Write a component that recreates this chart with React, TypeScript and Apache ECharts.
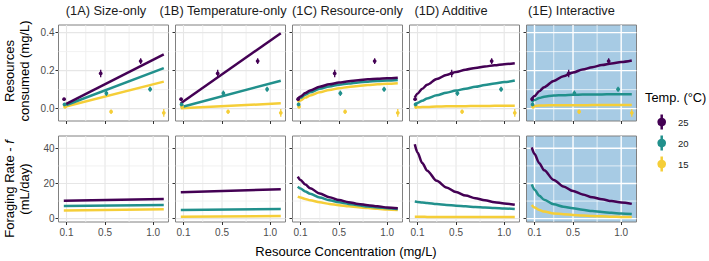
import React, { useEffect, useRef } from "react";
import * as echarts from "echarts";

// ---------- data ----------
const TEMPS = ["25", "20", "15"];
const PANEL_TITLES = ["(1A) Size-only", "(1B) Temperature-only", "(1C) Resource-only", "(1D) Additive", "(1E) Interactive"];
const X_TICKS = [0.1, 0.5, 1.0];
const X_MINOR = [0.3, 0.75];
const TOP_Y_TICKS = [0, 0.2, 0.4];
const TOP_Y_MINOR = [0.1, 0.3];
const BOT_Y_TICKS = [0, 20, 40];
const BOT_Y_MINOR = [10, 30];

const LINE_X = [0.072, 0.1, 0.15, 0.2, 0.3, 0.4, 0.5, 0.6, 0.7, 0.8, 0.9, 1.0, 1.11];
const LINE_ENDS_X = [0.072, 1.11];

// Resources consumed (top row); rows = 25, 20, 15 °C
const consumed1A = [[0.019, 0.286], [0.014, 0.213], [0.009, 0.142]];
const consumed1B = [[0.028, 0.397], [0.007, 0.147], [0.002, 0.028]];
const consumed1C = [
  [0.052, 0.064, 0.082, 0.096, 0.115, 0.128, 0.137, 0.144, 0.149, 0.154, 0.157, 0.160, 0.163],
  [0.044, 0.057, 0.073, 0.086, 0.104, 0.117, 0.126, 0.132, 0.138, 0.142, 0.145, 0.148, 0.151],
  [0.033, 0.043, 0.058, 0.069, 0.086, 0.098, 0.107, 0.114, 0.119, 0.124, 0.128, 0.131, 0.134],
];
const consumed1D = [
  [0.058, 0.079, 0.105, 0.126, 0.156, 0.177, 0.193, 0.205, 0.214, 0.222, 0.228, 0.234, 0.239],
  [0.022, 0.030, 0.042, 0.053, 0.070, 0.084, 0.095, 0.105, 0.115, 0.124, 0.132, 0.140, 0.148],
  [0.006, 0.007, 0.008, 0.009, 0.011, 0.012, 0.013, 0.013, 0.014, 0.014, 0.015, 0.015, 0.015],
];
const consumed1E = [
  [0.050, 0.066, 0.092, 0.113, 0.146, 0.171, 0.190, 0.206, 0.218, 0.229, 0.238, 0.245, 0.253],
  [0.034, 0.045, 0.056, 0.063, 0.069, 0.071, 0.073, 0.074, 0.075, 0.075, 0.076, 0.076, 0.076],
  [0.012, 0.014, 0.016, 0.017, 0.018, 0.018, 0.018, 0.018, 0.019, 0.019, 0.019, 0.019, 0.019],
];

// Foraging rate f (bottom row); rows = 25, 20, 15 °C
const foraging1A = [[10.2, 11.2], [7.2, 7.8], [4.6, 5.3]];
const foraging1B = [[15.0, 16.7], [4.9, 5.5], [1.1, 1.5]];
const foraging1C = [
  [23.9, 22.0, 19.4, 17.3, 14.3, 12.2, 10.6, 9.4, 8.4, 7.6, 7.0, 6.4, 5.9],
  [18.2, 17.1, 15.5, 14.1, 12.0, 10.5, 9.3, 8.4, 7.6, 6.9, 6.4, 5.9, 5.5],
  [12.5, 12.0, 11.2, 10.5, 9.3, 8.4, 7.6, 7.0, 6.5, 6.0, 5.6, 5.2, 4.9],
];
const foraging1D = [
  [42.3, 37.6, 31.6, 27.3, 21.5, 17.7, 15.1, 13.1, 11.6, 10.4, 9.4, 8.6, 7.9],
  [9.7, 9.5, 9.2, 8.9, 8.3, 7.8, 7.4, 7.0, 6.6, 6.3, 6.0, 5.8, 5.5],
  [1.1, 1.1, 1.1, 1.0, 1.0, 1.0, 1.0, 0.9, 0.9, 0.9, 0.9, 0.9, 0.9],
];
const foraging1E = [
  [40.5, 36.7, 31.5, 27.5, 22.0, 18.3, 15.7, 13.8, 12.2, 11.0, 10.0, 9.2, 8.4],
  [19.5, 16.5, 13.0, 10.8, 8.2, 6.8, 5.9, 5.0, 4.3, 3.8, 3.3, 2.9, 2.6],
  [7.8, 6.3, 4.9, 4.0, 3.0, 2.5, 2.1, 1.8, 1.5, 1.3, 1.1, 1.0, 0.9],
];

// Observed resources consumed (mean ± error); rows = 25, 20, 15 °C
const OBS_X = [[0.075, 0.455, 0.87], [0.08, 0.514, 0.968], [0.085, 0.563, 1.11]];
const OBS_MEAN = [[0.05, 0.185, 0.25], [0.022, 0.081, 0.102], [0.01, -0.016, -0.022]];
const OBS_ERR = [[0.004, 0.02, 0.015], [0.004, 0.014, 0.013], [0.004, 0.012, 0.02]];

// ---------- styling ----------
const FONT = "'Liberation Sans', Arial, Helvetica, sans-serif";
const COLORS = ["#440154", "#21908C", "#F5CE38"];
const PANEL_BLUE = "#A7CBE4";
const GRID_LEFT = 58.5;
const GRID_STEP = 117;
const GRID_W = 110;
const ROWS = [
  { top: 25, height: 96, min: -0.065, max: 0.44 },
  { top: 136, height: 86, min: -1.9, max: 47 },
];
const X_MIN = 0.017;
const X_MAX = 1.159;

function buildOption() {
  const grid: any[] = [];
  const xAxis: any[] = [];
  const yAxis: any[] = [];
  const series: any[] = [];
  const consumed = [consumed1A, consumed1B, consumed1C, consumed1D, consumed1E];
  const foraging = [foraging1A, foraging1B, foraging1C, foraging1D, foraging1E];
  const straight = [true, true, false, false, false];

  for (let r = 0; r < 2; r++) {
    for (let c = 0; c < 5; c++) {
      const idx = r * 5 + c;
      const blue = c === 4;
      const yTicks = r === 0 ? TOP_Y_TICKS : BOT_Y_TICKS;
      const yMinor = r === 0 ? TOP_Y_MINOR : BOT_Y_MINOR;
      grid.push({
        left: GRID_LEFT + c * GRID_STEP,
        top: ROWS[r].top,
        width: GRID_W,
        height: ROWS[r].height,
        show: true,
        backgroundColor: blue ? PANEL_BLUE : "#ffffff",
        borderColor: "#808080",
        borderWidth: 1,
      });
      xAxis.push({
        gridIndex: idx,
        type: "value",
        min: X_MIN,
        max: X_MAX,
        axisLine: { show: false, onZero: false },
        splitLine: { show: false },
        axisTick: { show: true, customValues: X_TICKS, length: 3, lineStyle: { color: "#333333", width: 1 } },
        axisLabel: {
          show: r === 1,
          customValues: X_TICKS,
          formatter: (v: number) => v.toFixed(1),
          color: "#4d4d4d",
          fontSize: 10,
          fontFamily: FONT,
          margin: 5,
        },
      });
      yAxis.push({
        gridIndex: idx,
        type: "value",
        min: ROWS[r].min,
        max: ROWS[r].max,
        axisLine: { show: false, onZero: false },
        splitLine: { show: false },
        axisTick: { show: true, customValues: yTicks, length: 3, lineStyle: { color: "#333333", width: 1 } },
        axisLabel: {
          show: c === 0,
          customValues: yTicks,
          formatter: (v: number) => (r === 0 ? v.toFixed(1) : String(v)),
          color: "#4d4d4d",
          fontSize: 10,
          fontFamily: FONT,
          margin: 4,
        },
      });

      const majorColor = blue ? "#ffffff" : "#E6E6E6";
      const minorColor = blue ? "rgba(255,255,255,0.85)" : "#EEEEEE";
      const gridData = [
        ...X_TICKS.map((v) => [v, 0, 1]),
        ...X_MINOR.map((v) => [v, 0, 0]),
        ...yTicks.map((v) => [v, 1, 1]),
        ...yMinor.map((v) => [v, 1, 0]),
      ];
      series.push({
        type: "custom",
        xAxisIndex: idx,
        yAxisIndex: idx,
        silent: true,
        z: 1,
        data: gridData,
        renderItem: (params: any, api: any) => {
          const cs = params.coordSys;
          const v = api.value(0);
          const dir = api.value(1);
          const major = api.value(2) === 1;
          let shape;
          if (dir === 0) {
            const x = api.coord([v, 0])[0];
            shape = { x1: x, y1: cs.y, x2: x, y2: cs.y + cs.height };
          } else {
            const y = api.coord([0.5, v])[1];
            shape = { x1: cs.x, y1: y, x2: cs.x + cs.width, y2: y };
          }
          return {
            type: "line",
            shape,
            style: { stroke: major ? majorColor : minorColor, lineWidth: major ? (blue ? 1.4 : 1.1) : 0.8 },
          };
        },
      });

      const sets = r === 0 ? consumed[c] : foraging[c];
      const xs = straight[c] ? LINE_ENDS_X : LINE_X;
      for (let t = 2; t >= 0; t--) {
        series.push({
          type: "line",
          name: TEMPS[t],
          xAxisIndex: idx,
          yAxisIndex: idx,
          data: xs.map((x, i) => [x, sets[t][i]]),
          showSymbol: false,
          symbol: "none",
          smooth: straight[c] ? false : 0.3,
          smoothMonotone: "x",
          lineStyle: { color: COLORS[t], width: 2.5 },
          z: 2,
          silent: true,
        });
      }

      if (r === 0) {
        for (let t = 2; t >= 0; t--) {
          const color = COLORS[t];
          series.push({
            type: "custom",
            xAxisIndex: idx,
            yAxisIndex: idx,
            silent: true,
            z: 3,
            encode: { x: 0, y: [1, 2, 3] },
            data: OBS_X[t].map((x, i) => [x, OBS_MEAN[t][i], OBS_MEAN[t][i] - OBS_ERR[t][i], OBS_MEAN[t][i] + OBS_ERR[t][i]]),
            renderItem: (params: any, api: any) => {
              const x = api.value(0);
              const p = api.coord([x, api.value(1)]);
              const lo = api.coord([x, api.value(2)]);
              const hi = api.coord([x, api.value(3)]);
              return {
                type: "group",
                children: [
                  { type: "line", shape: { x1: lo[0], y1: lo[1], x2: hi[0], y2: hi[1] }, style: { stroke: color, lineWidth: 1.3 } },
                  { type: "circle", shape: { cx: p[0], cy: p[1], r: 1.9 }, style: { fill: color } },
                ],
              };
            },
          });
        }
      }
    }
  }

  const stripCenters = [106, 223, 347.5, 451, 571.5];
  const graphic: any[] = [];
  PANEL_TITLES.forEach((title, i) => {
    graphic.push({
      type: "text",
      x: stripCenters[i],
      y: 10,
      style: { text: title, fontSize: 12.8, fontFamily: FONT, fill: "#1a1a1a", textAlign: "center", textVerticalAlign: "middle" },
    });
  });
  graphic.push({
    type: "text",
    x: 17,
    y: 71,
    rotation: Math.PI / 2,
    style: {
      text: "Resources\nconsumed (mg/L)",
      fontSize: 13,
      lineHeight: 15,
      fontFamily: FONT,
      fill: "#000000",
      textAlign: "center",
      textVerticalAlign: "middle",
    },
  });
  graphic.push({
    type: "text",
    x: 17,
    y: 189,
    rotation: Math.PI / 2,
    style: {
      text: "{n|Foraging Rate - }{i|f}\n{n|(mL/day)}",
      fontSize: 13,
      lineHeight: 15,
      fontFamily: FONT,
      fill: "#000000",
      textAlign: "center",
      textVerticalAlign: "middle",
      rich: {
        n: { fontSize: 13, fontFamily: FONT, fill: "#000000", lineHeight: 15 },
        i: { fontSize: 13, fontFamily: FONT, fontStyle: "italic", fill: "#000000", lineHeight: 15 },
      },
    },
  });
  graphic.push({
    type: "text",
    x: 346,
    y: 251.5,
    style: { text: "Resource Concentration (mg/L)", fontSize: 13, fontFamily: FONT, fill: "#000000", textAlign: "center", textVerticalAlign: "middle" },
  });
  graphic.push({
    type: "text",
    x: 645,
    y: 97,
    style: { text: "Temp. (°C)", fontSize: 12.8, fontFamily: FONT, fill: "#000000", textAlign: "left", textVerticalAlign: "middle" },
  });
  const keyY = [122, 143, 164];
  TEMPS.forEach((label, t) => {
    graphic.push({
      type: "line",
      shape: { x1: 661.7, y1: keyY[t] - 7.5, x2: 661.7, y2: keyY[t] + 7.5 },
      style: { stroke: COLORS[t], lineWidth: 2.5 },
    });
    graphic.push({
      type: "circle",
      shape: { cx: 661.7, cy: keyY[t], r: 4.3 },
      style: { fill: COLORS[t] },
    });
    graphic.push({
      type: "text",
      x: 678,
      y: keyY[t],
      style: { text: label, fontSize: 9.5, fontFamily: FONT, fill: "#1a1a1a", textAlign: "left", textVerticalAlign: "middle" },
    });
  });

  return {
    animation: false,
    backgroundColor: "#ffffff",
    textStyle: { fontFamily: FONT },
    grid,
    xAxis,
    yAxis,
    series,
    graphic,
  };
}

export default function App() {
  const ref = useRef<HTMLDivElement>(null);
  useEffect(() => {
    if (!ref.current) return;
    const chart = echarts.init(ref.current, undefined, { renderer: "svg" });
    chart.setOption(buildOption() as any);
    return () => chart.dispose();
  }, []);
  return <div ref={ref} style={{ position: "absolute", left: 0, top: 0, width: 709, height: 261 }} />;
}
